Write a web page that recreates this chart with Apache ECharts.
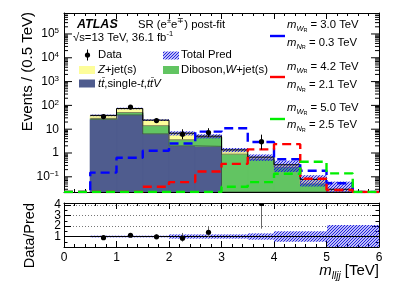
<!DOCTYPE html>
<html><head><meta charset="utf-8">
<script src="https://cdn.jsdelivr.net/npm/echarts@6/dist/echarts.min.js"></script>
<style>html,body{margin:0;padding:0;background:#fff}#c{width:399px;height:286px}</style>
</head><body><div id="c"></div>
<script>
// ---- data ----
const binEdges = [0.5, 1.0, 1.5, 2.0, 2.5, 3.0, 3.5, 4.0, 4.5, 5.0, 5.5, 6.0];
const ttbar   = [26, 40, 6.4, 2.0, 1.9, 0, 0, 0, 0, 0, 0];
const diboson = [2.5, 10, 7.6, 1.6, 2.7, 0.9, 0.55, 0.25, 0.05, 0.022, 0];
const zjets   = [9.5, 24, 10, 3.2, 0.5, 0.45, 0.12, 0.07, 0.028, 0.008, 0];
const predRelErr = [0.08, 0.08, 0.08, 0.2, 0.2, 0.2, 0.3, 0.5, 0.5, 1.1, 1.1];
const dataX = [0.75, 1.25, 1.75, 2.25, 2.75, 3.75];
const dataY = [34, 85, 23, 6.2, 7.2, 3.0];
const dataErrLo = [5.8, 9.2, 4.8, 2.4, 2.6, 1.6];
const dataErrHi = [6.9, 10.3, 5.9, 3.7, 3.8, 2.9];
const ratioY = [0.89, 1.12, 0.97, 0.84, 1.41, 4.15];
const ratioErrLo = [0.15, 0.12, 0.2, 0.33, 0.45, 2.4];
const ratioErrHi = [0.18, 0.13, 0.24, 0.5, 0.55, 4.0];
const sigEdges = [0, 0.5, 1.0, 1.5, 2.0, 2.5, 3.0, 3.5, 4.0, 4.5, 5.0, 5.5, 6.0];
const sigBlue  = [0, 0.15, 0.63, 1.25, 2.5, 7.9, 11, 2.9, 0.55, 0.18, 0.054, 0];
const sigRed   = [0, 0, 0, 0.038, 0.06, 0.167, 0.35, 1.42, 2.35, 0.083, 0.028, 0];
const sigGreen = [0, 0, 0, 0, 0, 0, 0.038, 0.06, 0.134, 0.43, 0.14, 0];
const ratioTicks = [0, 1, 2, 3, 4];

// ---- display settings ----
const Y_MIN = 0.023, Y_MAX = 7.6e5, R_MAX = 4.2;
const F = 'Liberation Sans, Arial, Helvetica, sans-serif';
const C_TT = '#4f5c8e', C_DB = '#62c462', C_ZJ = '#fdfd9a';

function hatchCanvas() {
  const c = document.createElement('canvas'); c.width = 3; c.height = 3;
  const g = c.getContext('2d');
  g.strokeStyle = '#1a1ae0'; g.lineWidth = 1.1;
  g.beginPath();
  g.moveTo(0, 3); g.lineTo(3, 0);
  g.moveTo(-1, 1); g.lineTo(1, -1);
  g.moveTo(2, 4); g.lineTo(4, 2);
  g.stroke();
  return c;
}
const HATCH = {image: hatchCanvas(), repeat: 'repeat'};

// cumulative stack tops
const layers = [ttbar, diboson, zjets];
const layerColors = [C_TT, C_DB, C_ZJ];
const cum = [];
let base = ttbar.map(() => 0);
layers.forEach((arr, l) => { cum[l] = arr.map((v, i) => base[i] + v); base = cum[l]; });
const total = cum[2];
const floorV = v => (v > Y_MIN ? v : Y_MIN);

function rectRender(fill, solid) {
  return function (params, api) {
    const p0 = api.coord([api.value(0), api.value(3)]);
    const p1 = api.coord([api.value(1), api.value(2)]);
    const x0 = Math.round(p0[0]), x1 = Math.round(p1[0]);
    return {type: 'rect', shape: {x: x0, y: p0[1], width: x1 - x0, height: p1[1] - p0[1]},
      style: solid ? {fill: fill, stroke: fill, lineWidth: 0.6} : {fill: fill}};
  };
}
function stepData(edges, vals) {
  const d = vals.map((v, i) => [edges[i], floorV(v)]);
  d.push([edges[edges.length - 1], floorV(vals[vals.length - 1])]);
  return d;
}

const series = [];
layers.forEach((arr, l) => {
  const data = [];
  arr.forEach((v, i) => {
    if (v > 0) data.push([binEdges[i], binEdges[i + 1], l === 0 ? Y_MIN : floorV(cum[l - 1][i]), cum[l][i]]);
  });
  series.push({type: 'custom', xAxisIndex: 0, yAxisIndex: 0, clip: true, z: 2,
    renderItem: rectRender(layerColors[l], true), data: data, encode: {x: [0, 1], y: [2, 3]}});
});
// thin outlines of stack layers
[cum[0], cum[1]].forEach(c => {
  series.push({type: 'line', xAxisIndex: 0, yAxisIndex: 0, step: 'end', symbol: 'none', z: 3,
    data: stepData(binEdges, c), lineStyle: {color: '#333', width: 0.6}, silent: true});
});
// total prediction uncertainty band
series.push({type: 'custom', xAxisIndex: 0, yAxisIndex: 0, clip: true, z: 4,
  renderItem: rectRender(HATCH, false),
  data: total.map((t, i) => [binEdges[i], binEdges[i + 1], floorV(t * (1 - predRelErr[i])), floorV(t * (1 + predRelErr[i]))])
    .filter((d, i) => total[i] > 0),
  encode: {x: [0, 1], y: [2, 3]}});
series.push({type: 'line', xAxisIndex: 0, yAxisIndex: 0, step: 'end', symbol: 'none', z: 5,
  data: stepData(binEdges, total), lineStyle: {color: '#000', width: 1}, silent: true});
// signals
[[sigBlue, '#0000ff'], [sigRed, '#ff0000'], [sigGreen, '#00ee00']].forEach(([s, col]) => {
  series.push({type: 'line', xAxisIndex: 0, yAxisIndex: 0, step: 'end', symbol: 'none', z: 6,
    data: stepData(sigEdges, s), lineStyle: {color: col, width: 2.4, type: [9, 5]}, silent: true});
});
// data points
function pointRender(errColor) {
  return function (params, api) {
    const x = api.value(0), y = api.value(1);
    const c = api.coord([x, y]);
    const lo = api.coord([x, Math.max(y - api.value(2), 1e-6)]);
    const hi = api.coord([x, y + api.value(3)]);
    const cx = Math.round(c[0]) + 0.5;
    return {type: 'group', children: [
      {type: 'line', shape: {x1: cx, y1: lo[1], x2: cx, y2: hi[1]}, style: {stroke: errColor, lineWidth: 1}},
      {type: 'circle', shape: {cx: cx, cy: c[1], r: 2.6}, style: {fill: '#000'}}
    ]};
  };
}
series.push({type: 'custom', xAxisIndex: 0, yAxisIndex: 0, clip: true, z: 8,
  renderItem: pointRender('#000'),
  data: dataX.map((x, i) => [x, dataY[i], dataErrLo[i], dataErrHi[i]]), encode: {x: 0, y: 1}});

// ratio panel
series.push({type: 'custom', xAxisIndex: 2, yAxisIndex: 2, clip: true, z: 3,
  renderItem: rectRender(HATCH, false),
  data: predRelErr.map((e, i) => [binEdges[i], binEdges[i + 1], Math.max(0, 1 - e), 1 + e]),
  encode: {x: [0, 1], y: [2, 3]},
  markLine: {silent: true, symbol: 'none', label: {show: false}, data: [{yAxis: 1}],
    lineStyle: {color: '#000', type: 'solid', width: 1}}});
series.push({type: 'custom', xAxisIndex: 2, yAxisIndex: 2, clip: true, z: 8,
  renderItem: pointRender('#666'),
  data: dataX.map((x, i) => [x, ratioY[i], ratioErrLo[i], ratioErrHi[i]]), encode: {x: 0, y: 1}});

// minor/major ticks of the log axis (both sides)
const logTicks = [];
for (let n = -2; n <= 5; n++) for (let k = 1; k <= 9; k++) {
  const v = k * Math.pow(10, n);
  if (v > Y_MIN && v < Y_MAX) logTicks.push([0, v, k === 1 ? 8 : 4]);
}
series.push({type: 'custom', xAxisIndex: 0, yAxisIndex: 0, clip: false, z: 10, silent: true,
  renderItem: function (params, api) {
    const v = api.value(1), len = api.value(2);
    const a = api.coord([0, v]), b = api.coord([6, v]);
    return {type: 'group', children: [
      {type: 'line', shape: {x1: a[0], y1: a[1], x2: a[0] + len, y2: a[1]}, style: {stroke: '#000', lineWidth: 1}},
      {type: 'line', shape: {x1: b[0], y1: b[1], x2: b[0] - len, y2: b[1]}, style: {stroke: '#000', lineWidth: 1}}
    ]};
  },
  data: logTicks, encode: {x: 0, y: 1}});

const axLine = {show: true, onZero: false, lineStyle: {color: '#000', width: 1}};
function xAx(grid, pos, labels) {
  return {type: 'value', gridIndex: grid, position: pos, min: 0, max: 6, interval: 1,
    axisLine: axLine, splitLine: {show: false},
    axisTick: {show: true, inside: true, length: 6, lineStyle: {color: '#000'}},
    minorTick: {show: true, splitNumber: 5, length: 3, lineStyle: {color: '#000'}},
    axisLabel: labels ? {show: true, margin: 5, fontSize: 12, fontFamily: F, color: '#000'} : {show: false}};
}
function logLabel(v) {
  const n = Math.round(Math.log10(v));
  if (Math.abs(Math.log10(v) - n) > 1e-6) return '';
  if (n === 0) return '{b|1}';
  if (n === 1) return '{b|10}';
  return '{b|10}{s|' + String(n).replace('-', '\u2212') + '}';
}
const option = {
  animation: false,
  backgroundColor: '#fff',
  grid: [
    {left: 64, top: 13, width: 315, height: 179},
    {left: 64, top: 203, width: 315, height: 44}
  ],
  xAxis: [xAx(0, 'bottom', false), xAx(0, 'top', false), xAx(1, 'bottom', true), xAx(1, 'top', false)],
  yAxis: [
    {type: 'log', gridIndex: 0, position: 'left', min: Y_MIN, max: Y_MAX, logBase: 10,
      axisLine: axLine, axisTick: {show: false}, splitLine: {show: false}, minorTick: {show: false},
      axisLabel: {show: true, margin: 5, color: '#000', fontFamily: F, fontSize: 12, formatter: logLabel,
        showMinLabel: false, showMaxLabel: false,
        rich: {b: {fontSize: 12, fontFamily: F, lineHeight: 14, color: '#000'},
               s: {fontSize: 8, fontFamily: F, lineHeight: 8, verticalAlign: 'top', color: '#000'}}}},
    {type: 'log', gridIndex: 0, position: 'right', min: Y_MIN, max: Y_MAX, logBase: 10,
      axisLine: axLine, axisTick: {show: false}, splitLine: {show: false}, axisLabel: {show: false}},
    {type: 'value', gridIndex: 1, position: 'left', min: 0, max: R_MAX, interval: 1,
      axisLine: axLine, axisTick: {show: true, inside: true, length: 7, lineStyle: {color: '#000'}},
      minorTick: {show: true, splitNumber: 2, length: 3.5, lineStyle: {color: '#000'}},
      splitLine: {show: true, lineStyle: {color: '#777', type: [1, 2], width: 1}},
      axisLabel: {show: true, margin: 3, color: '#000', fontFamily: F, fontSize: 12,
        formatter: v => (ratioTicks.indexOf(v) >= 0 ? String(v) : ''), showMaxLabel: false}},
    {type: 'value', gridIndex: 1, position: 'right', min: 0, max: R_MAX, interval: 1,
      axisLine: axLine, axisTick: {show: true, inside: true, length: 7, lineStyle: {color: '#000'}},
      minorTick: {show: true, splitNumber: 2, length: 3.5, lineStyle: {color: '#000'}},
      splitLine: {show: false}, axisLabel: {show: false}}
  ],
  series: series,
  graphic: []
};

// ---- texts and legend ----
const G = option.graphic;
function txt(x, y, rich, text, extra) {
  G.push(Object.assign({type: 'text', x: x, y: y, z: 100,
    style: {text: text, rich: rich, fontFamily: F, fontSize: 11.3, fill: '#000', align: 'left', verticalAlign: 'middle'}}, extra || {}));
}
const RN = {
  n: {fontSize: 11.3, fontFamily: F, lineHeight: 16, fill: '#000'},
  i: {fontSize: 11.3, fontFamily: F, fontStyle: 'italic', lineHeight: 16, fill: '#000'},
  s: {fontSize: 7.5, fontFamily: F, lineHeight: 9, verticalAlign: 'top', fill: '#000'},
  sb: {fontSize: 7.5, fontFamily: F, fontStyle: 'italic', lineHeight: 10, verticalAlign: 'bottom', fill: '#000'},
  ssb: {fontSize: 5.5, fontFamily: F, lineHeight: 6, verticalAlign: 'bottom', fill: '#000'}
};
G.push({type: 'text', x: 77, y: 24.5, z: 100, style: {text: 'ATLAS', fontFamily: F, fontSize: 12.5,
  fontWeight: 'bold', fontStyle: 'italic', fill: '#000', align: 'left', verticalAlign: 'middle'}});
txt(138, 24.5, RN, '{n|SR (e}{s|\u00b1}{n|e}{s|\u2213}{n|) post-fit}');
txt(73, 38, RN, '{n|\u221As=13 TeV, 36.1 fb}{s|-1}');
// data marker
G.push({type: 'line', z: 100, shape: {x1: 87.5, y1: 49.5, x2: 87.5, y2: 60.5}, style: {stroke: '#000', lineWidth: 1}});
G.push({type: 'circle', z: 100, shape: {cx: 87.5, cy: 55, r: 2.6}, style: {fill: '#000'}});
txt(98, 55, RN, '{n|Data}');
G.push({type: 'rect', z: 100, shape: {x: 163, y: 51.5, width: 16, height: 8}, style: {fill: HATCH}});
txt(181, 55, RN, '{n|Total Pred}');
G.push({type: 'rect', z: 100, shape: {x: 79, y: 66, width: 16, height: 8}, style: {fill: C_ZJ}});
txt(98, 70, RN, '{i|Z}{n|+jet(s)}');
G.push({type: 'rect', z: 100, shape: {x: 163, y: 66, width: 16, height: 8}, style: {fill: C_DB}});
txt(181, 70, RN, '{n|Diboson,}{i|W}{n|+jet(s)}');
G.push({type: 'rect', z: 100, shape: {x: 79, y: 79.5, width: 16, height: 8}, style: {fill: C_TT}});
txt(98, 83.5, RN, '{i|tt\u0304}{n|,single-}{i|t}{n|,}{i|tt\u0304V}');
// signal legend
[[25, 42.7, 36, '#0000ff', '3.0', '0.3'], [66.7, 85, 77, '#ff0000', '4.2', '2.1'], [108.3, 125, 119, '#00ee00', '5.0', '2.5']]
  .forEach(([y1, y2, yl, col, mw, mn]) => {
    G.push({type: 'line', z: 100, shape: {x1: 270, y1: yl, x2: 285, y2: yl}, style: {stroke: col, lineWidth: 2.4}});
    txt(287, y1, RN, '{i|m}{sb|W}{ssb|R}{n| = ' + mw + ' TeV}');
    txt(287, y2, RN, '{i|m}{sb|N}{ssb|R}{n| = ' + mn + ' TeV}');
  });
// axis titles
G.push({type: 'text', x: 27.5, y: 12, rotation: Math.PI / 2, z: 100,
  style: {text: 'Events / (0.5 TeV)', fontFamily: F, fontSize: 15, fill: '#000', align: 'right', verticalAlign: 'middle'}});
G.push({type: 'text', x: 30, y: 203, rotation: Math.PI / 2, z: 100,
  style: {text: 'Data/Pred', fontFamily: F, fontSize: 14.5, fill: '#000', align: 'right', verticalAlign: 'middle'}});
G.push({type: 'text', x: 379, y: 271, z: 100,
  style: {text: '{mi|m}{ms|lljj}{mn| [TeV]}', fontFamily: F, fontSize: 15, fill: '#000', align: 'right', verticalAlign: 'middle',
    rich: {mi: {fontSize: 15, fontFamily: F, fontStyle: 'italic', lineHeight: 20, fill: '#000'},
           ms: {fontSize: 10, fontFamily: F, fontStyle: 'italic', lineHeight: 12, verticalAlign: 'bottom', fill: '#000'},
           mn: {fontSize: 15, fontFamily: F, lineHeight: 20, fill: '#000'}}}});

const chart = echarts.init(document.getElementById('c'));
chart.setOption(option);
</script>
</body></html>
